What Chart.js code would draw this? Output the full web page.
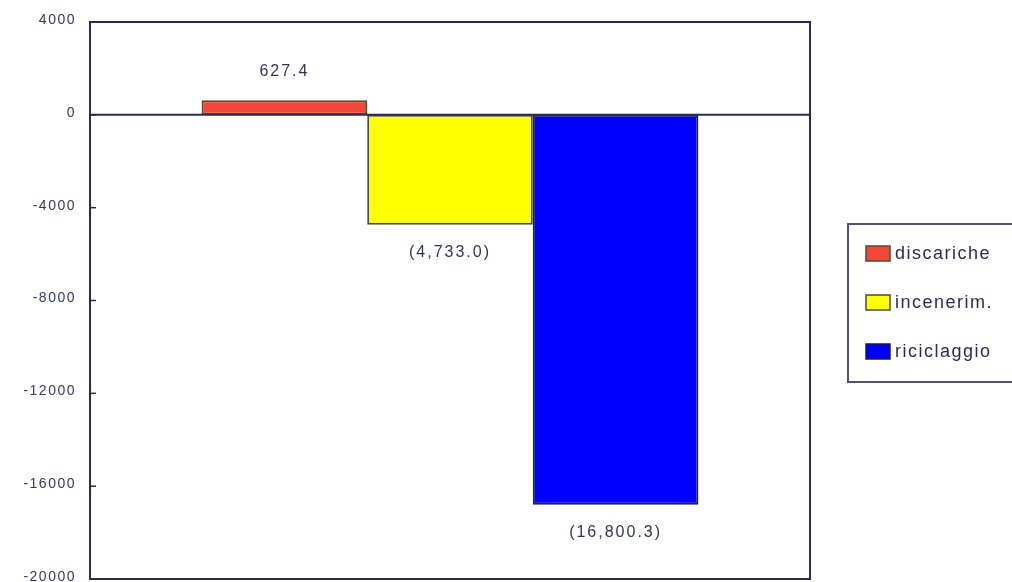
<!DOCTYPE html>
<html>
<head>
<meta charset="utf-8">
<script src="https://cdn.jsdelivr.net/npm/chart.js@4/dist/chart.umd.min.js"></script>
<style>
  html, body { margin: 0; padding: 0; background: #fff; }
  #wrap { width: 1012px; height: 582px; position: relative; }
</style>
</head>
<body>
<div id="wrap"><canvas id="chart" width="1012" height="582"></canvas></div>
<script>
// data
const seriesNames = ['discariche', 'incenerim.', 'riciclaggio'];
const seriesValues = [627.4, -4733.0, -16800.3];
const seriesColors = ['#f2473a', '#ffff00', '#0000ff'];
const seriesBorders = ['#5b4a22', '#4a4a4a', '#1a1a60'];
const yTicks = [4000, 0, -4000, -8000, -12000, -16000, -20000];

const INK = '#2b2b55';
const FONT = '"Liberation Sans", Arial, sans-serif';

function fmtValue(v) {
  const s = Math.abs(v).toLocaleString('en-US', { minimumFractionDigits: 1, maximumFractionDigits: 1 });
  return v < 0 ? '(' + s + ')' : s;
}

const framePlugin = {
  id: 'frame',
  afterDraw(chart) {
    const { ctx, chartArea: a, scales: { y } } = chart;
    ctx.save();
    ctx.strokeStyle = INK;
    ctx.lineWidth = 2;
    ctx.strokeRect(a.left, a.top, a.right - a.left, a.bottom - a.top);
    // zero line
    const y0 = y.getPixelForValue(0);
    ctx.beginPath();
    ctx.moveTo(a.left, y0);
    ctx.lineTo(a.right, y0);
    ctx.stroke();
    // inner tick marks + tick labels
    ctx.lineWidth = 1.5;
    ctx.font = '14px ' + FONT;
    ctx.letterSpacing = '1.5px';
    ctx.fillStyle = '#383862';
    ctx.textAlign = 'right';
    ctx.textBaseline = 'middle';
    yTicks.forEach(t => {
      const py = y.getPixelForValue(t);
      ctx.beginPath();
      ctx.moveTo(a.left, py);
      ctx.lineTo(a.left + 6, py);
      ctx.stroke();
      ctx.fillText(String(t), 76, py - 2);
    });

    // value labels
    ctx.font = '16px ' + FONT;
    ctx.letterSpacing = '2px';
    ctx.fillStyle = '#33335a';
    ctx.textAlign = 'center';
    chart.data.datasets.forEach((ds, i) => {
      const bar = chart.getDatasetMeta(i).data[0];
      const v = ds.data[0];
      const ly = v >= 0 ? bar.y - 29 : bar.y + 28;
      ctx.fillText(fmtValue(v), bar.x, ly);
    });

    // legend box
    ctx.letterSpacing = '0px';
    ctx.strokeStyle = '#50507a';
    ctx.lineWidth = 2;
    ctx.beginPath();
    ctx.moveTo(1014, 224);
    ctx.lineTo(848, 224);
    ctx.lineTo(848, 382);
    ctx.lineTo(1014, 382);
    ctx.stroke();
    ctx.font = '18px ' + FONT;
    ctx.letterSpacing = '1.5px';
    ctx.textAlign = 'left';
    chart.data.datasets.forEach((ds, i) => {
      const cy = 254 + i * 49;
      ctx.fillStyle = ds.backgroundColor;
      ctx.fillRect(866, cy - 8, 24, 15);
      ctx.strokeStyle = ds.borderColor;
      ctx.lineWidth = 1.5;
      ctx.strokeRect(866, cy - 8, 24, 15);
      ctx.fillStyle = '#2b2b55';
      ctx.fillText(ds.label, 895, cy);
    });
    ctx.restore();
  }
};

new Chart(document.getElementById('chart'), {
  type: 'bar',
  data: {
    labels: [''],
    datasets: seriesNames.map((name, i) => ({
      label: name,
      data: [seriesValues[i]],
      backgroundColor: seriesColors[i],
      borderColor: seriesBorders[i],
      borderWidth: 2,
      borderSkipped: false
    }))
  },
  options: {
    responsive: false,
    animation: false,
    layout: { padding: { left: 0, right: 202, top: 22, bottom: 3 } },
    datasets: { bar: { barPercentage: 1, categoryPercentage: 0.69 } },
    plugins: { legend: { display: false }, tooltip: { enabled: false } },
    scales: {
      x: {
        display: false,
        grid: { display: false }
      },
      y: {
        min: -20000,
        max: 4000,
        afterBuildTicks: s => { s.ticks = yTicks.map(v => ({ value: v })); },
        afterFit: s => { s.width = 90; s.paddingTop = 0; s.paddingBottom = 0; },
        grid: { display: false },
        border: { display: false },
        ticks: { display: false }
      }
    }
  },
  plugins: [framePlugin]
});
</script>
</body>
</html>
